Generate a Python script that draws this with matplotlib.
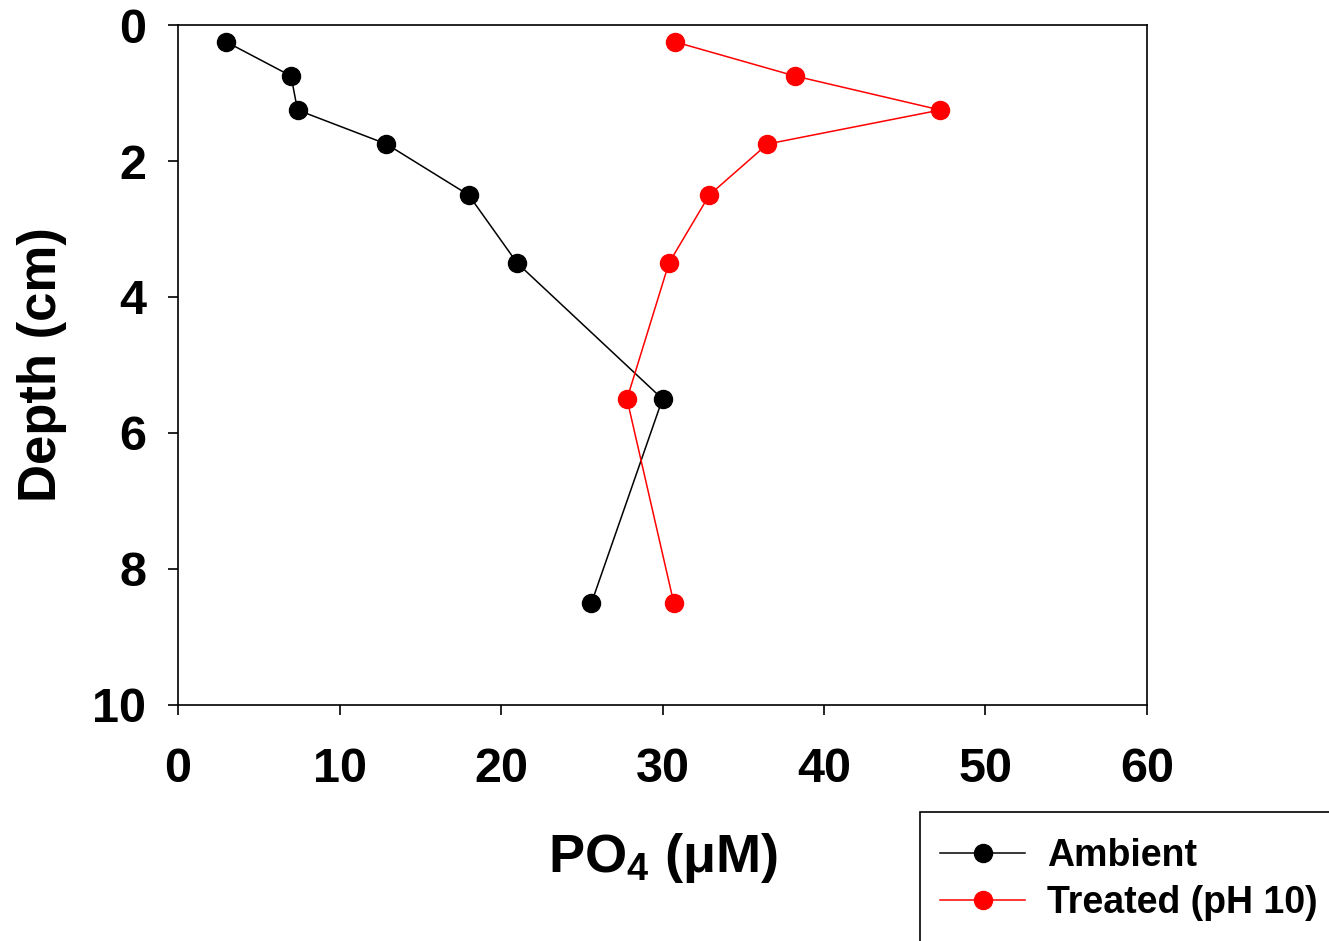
import matplotlib
matplotlib.use("Agg")
import matplotlib.pyplot as plt
from matplotlib.patches import Rectangle

plt.rcParams['font.family'] = ['Liberation Sans', 'DejaVu Sans']
plt.rcParams['font.weight'] = 'bold'
plt.rcParams['mathtext.fontset'] = 'custom'
plt.rcParams['mathtext.rm'] = 'Liberation Sans:bold'
plt.rcParams['mathtext.bf'] = 'Liberation Sans:bold'
plt.rcParams['mathtext.default'] = 'rm'

# depth of each slice (cm)
depth = [0.25, 0.75, 1.25, 1.75, 2.5, 3.5, 5.5, 8.5]
# PO4 concentrations (uM)
ambient = [3.0, 7.0, 7.4, 12.9, 18.0, 21.0, 30.0, 25.6]
treated = [30.8, 38.2, 47.2, 36.5, 32.9, 30.4, 27.8, 30.7]

W, H = 1329, 941
fig = plt.figure(figsize=(W / 100, H / 100), dpi=100)
ax = fig.add_axes([178 / W, 1 - 705 / H, (1147 - 178) / W, (705 - 25) / H])

ax.plot(ambient, depth, color='black', lw=1.1, marker='o', ms=13,
        label='Ambient')
ax.plot(treated, depth, color='red', lw=1.1, marker='o', ms=13,
        label='Treated (pH 10)')

ax.set_xlim(0, 60)
ax.set_ylim(10, 0)
ax.set_xticks(range(0, 61, 10))
ax.set_yticks(range(0, 11, 2))
for s in ax.spines.values():
    s.set_linewidth(1.2)
ax.tick_params(direction='out', length=7, width=1.2, labelsize=35)
ax.tick_params(axis='x', pad=23.5)
ax.tick_params(axis='y', pad=16)

ax.set_xlabel(r'PO$_4$ (μM)', fontsize=39, fontweight='bold', labelpad=28)
ax.set_ylabel('Depth (cm)', fontsize=38, fontweight='bold', labelpad=18)

# legend box runs off the figure at right and bottom
fig.add_artist(Rectangle((920 / W, -0.05), 0.5, 1 - 812 / H + 0.05,
                         transform=fig.transFigure, fill=False,
                         edgecolor='black', lw=1.2))
leg = fig.legend(loc='upper left', bbox_to_anchor=(940 / W, 1 - 838 / H),
                 fontsize=27, frameon=False,
                 handlelength=2.27, handletextpad=0.59, borderpad=0,
                 labelspacing=0.3, borderaxespad=0)

fig.savefig('out.png', dpi=100)
